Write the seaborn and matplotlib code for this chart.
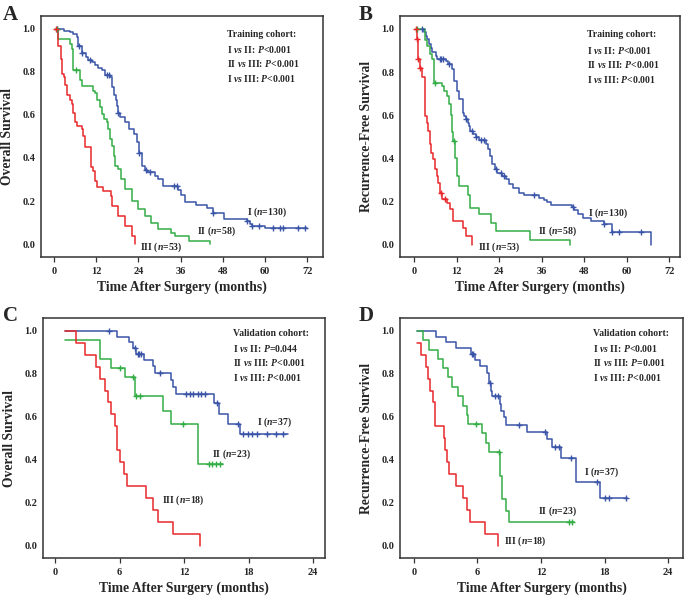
import numpy as np
import pandas as pd
import seaborn as sns
import matplotlib.pyplot as plt

# ---- panel A: training cohort, overall survival ----
a1_t = [0.7, 2.7, 4.5, 5.5, 6.4, 6.9, 7.9, 9.0, 9.6, 10.7, 11.7, 12.6, 13.5, 14.5, 15.9,
        16.4, 17.1, 17.6, 18.0, 18.3, 18.8, 20.2, 21.4, 22.8, 23.5, 24.2, 24.9, 25.9, 26.5,
        28.7, 29.7, 31.1, 35.3, 36.1, 37.3, 40.5, 43.5, 45.3, 48.4, 54.8, 55.7, 56.2, 60.0, 71.9]
a1_s = [1.0, 0.99, 0.985, 0.977, 0.96, 0.92, 0.888, 0.868, 0.853, 0.845, 0.83, 0.817, 0.806, 0.786, 0.775,
        0.729, 0.69, 0.667, 0.643, 0.609, 0.589, 0.566, 0.535, 0.512, 0.473, 0.423, 0.364, 0.346, 0.333,
        0.318, 0.302, 0.27, 0.253, 0.228, 0.197, 0.182, 0.17, 0.147, 0.119, 0.108, 0.096, 0.084, 0.073, 0.073]
a1_c = [0.7, 7.0, 8.0, 10.1, 15.0, 15.6, 18.3, 24.2, 26.1, 27.3, 34.1, 34.9, 45.3, 55.0, 56.3,
        58.4, 62.4, 64.3, 65.2, 69.3, 71.4]

a2_t = [0.7, 1.2, 4.5, 5.0, 5.5, 7.4, 7.9, 11.2, 11.7, 12.3, 13.1, 13.5, 14.3, 15.0, 15.4, 15.9,
        16.4, 17.1, 17.3, 18.3, 19.0, 20.2, 22.1, 24.0, 25.9, 27.5, 29.7, 33.4, 34.4, 38.5, 44.3]
a2_s = [1.0, 0.953, 0.93, 0.907, 0.806, 0.76, 0.736, 0.713, 0.702, 0.667, 0.636, 0.605, 0.581, 0.566, 0.535, 0.488,
        0.457, 0.411, 0.364, 0.349, 0.302, 0.256, 0.20, 0.163, 0.132, 0.10, 0.07, 0.054, 0.038, 0.017, 0.0]
a2_c = [0.7, 6.2]

a3_t = [0.6, 1.2, 1.9, 2.2, 2.8, 3.1, 3.8, 4.5, 5.2, 5.5, 6.0, 6.6, 7.9, 8.3, 8.8, 10.4, 11.2,
        11.7, 12.3, 14.0, 16.1, 16.4, 18.3, 20.2, 22.1, 23.0]
a3_s = [1.0, 0.92, 0.86, 0.79, 0.775, 0.74, 0.69, 0.67, 0.65, 0.61, 0.566, 0.55, 0.535, 0.50, 0.45, 0.357, 0.341,
        0.295, 0.264, 0.248, 0.225, 0.178, 0.132, 0.085, 0.039, 0.0]
a3_c = [0.6]

# ---- panel B: training cohort, recurrence-free survival ----
b1_t = [2.4, 2.8, 3.3, 3.8, 4.2, 4.7, 5.2, 6.1, 6.6, 8.9, 9.5, 10.8, 11.3, 12.2, 12.7, 13.7, 14.1,
        14.6, 15.1, 15.5, 15.8, 16.7, 17.4, 18.3, 20.4, 20.9, 21.4, 22.1, 22.9, 23.5, 24.8, 25.9,
        26.8, 27.8, 29.7, 31.1, 35.3, 36.7, 37.6, 38.6, 44.5, 45.2, 46.2, 47.6, 50.0, 53.5, 55.8, 66.7]
b1_s = [1.0, 0.984, 0.969, 0.953, 0.93, 0.91, 0.891, 0.876, 0.86, 0.853, 0.837, 0.814, 0.76, 0.713, 0.674, 0.612, 0.597,
        0.581, 0.566, 0.55, 0.527, 0.512, 0.50, 0.485, 0.465, 0.442, 0.411, 0.372, 0.349, 0.333, 0.32, 0.302,
        0.279, 0.264, 0.24, 0.228, 0.217, 0.206, 0.195, 0.183, 0.172, 0.16, 0.141, 0.122, 0.107, 0.095, 0.06, 0.0]
b1_c = [2.4, 7.2, 7.6, 8.1, 10.0, 14.6, 16.3, 17.4, 18.8, 19.6, 23.2, 24.5, 25.4, 33.7, 44.7,
        53.7, 55.8, 57.8, 63.9]

b2_t = [0.9, 3.0, 3.6, 4.4, 5.2, 5.6, 8.0, 8.5, 9.3, 10.0, 10.4, 10.8, 11.1, 11.7, 12.0, 12.8,
        15.1, 15.8, 18.4, 21.7, 23.0, 32.8, 43.9]
b2_s = [1.0, 0.95, 0.92, 0.885, 0.86, 0.75, 0.734, 0.711, 0.688, 0.65, 0.60, 0.52, 0.48, 0.40, 0.32, 0.27,
        0.232, 0.17, 0.14, 0.10, 0.062, 0.019, 0.0]
b2_c = [0.9, 5.8, 11.4]

b3_t = [0.5, 0.8, 1.2, 1.6, 2.4, 3.0, 3.6, 4.0, 4.4, 4.9, 5.4, 5.9, 6.4, 6.9, 7.4, 8.0, 9.4,
        10.2, 11.0, 13.8, 14.7, 16.3]
b3_s = [1.0, 0.953, 0.86, 0.817, 0.775, 0.597, 0.566, 0.527, 0.465, 0.426, 0.395, 0.349, 0.318, 0.287, 0.24, 0.209, 0.194,
        0.163, 0.11, 0.075, 0.039, 0.0]
b3_c = [0.5, 0.8, 1.2, 1.6, 7.6, 8.8]

# ---- panel C: validation cohort, overall survival ----
c1_t = [0.9, 5.8, 6.9, 7.2, 7.5, 8.3, 9.1, 9.3, 10.8, 11.0, 11.2, 14.8, 15.2, 16.1, 17.2, 21.7]
c1_s = [1.0, 0.972, 0.946, 0.92, 0.892, 0.865, 0.837, 0.806, 0.772, 0.74, 0.705, 0.666, 0.612, 0.566, 0.52, 0.52]
c1_c = [5.0, 7.4, 7.7, 7.85, 7.95, 9.8, 12.2, 12.5, 12.85, 13.3, 13.6, 13.9, 15.1, 17.0,
        17.5, 17.9, 18.3, 18.8, 19.7, 20.5, 21.2]

c2_t = [0.9, 4.2, 5.2, 6.5, 7.4, 10.0, 10.75, 13.3, 15.6]
c2_s = [0.957, 0.87, 0.826, 0.783, 0.696, 0.626, 0.565, 0.38, 0.38]
c2_c = [6.0, 7.2, 7.5, 7.9, 11.9, 14.3, 14.6, 15.0, 15.3]

c3_t = [0.9, 1.9, 2.8, 3.8, 4.2, 4.6, 4.95, 5.2, 5.6, 5.8, 6.0, 6.4, 6.7, 8.5, 9.1, 9.6, 11.0, 13.45]
c3_s = [1.0, 0.944, 0.889, 0.833, 0.778, 0.722, 0.667, 0.611, 0.556, 0.444, 0.389, 0.333, 0.278, 0.222,
        0.167, 0.111, 0.056, 0.0]
c3_c = []

# ---- panel D: validation cohort, recurrence-free survival ----
d1_t = [0.3, 2.1, 3.0, 4.0, 5.4, 5.8, 6.2, 6.9, 7.1, 7.25, 7.4, 8.1, 8.2, 8.5, 8.7, 10.7, 12.6,
        13.0, 13.9, 15.3, 17.6, 20.1]
d1_s = [1.0, 0.973, 0.946, 0.919, 0.892, 0.865, 0.838, 0.804, 0.758, 0.72, 0.696, 0.66, 0.627, 0.599, 0.562,
        0.531, 0.495, 0.457, 0.41, 0.295, 0.222, 0.222]
d1_c = [5.5, 5.6, 7.15, 7.7, 7.9, 9.9, 12.4, 13.3, 13.7, 14.8, 17.3, 18.0, 18.4, 20.0]

d2_t = [0.3, 0.9, 1.4, 2.3, 2.7, 3.2, 3.6, 4.2, 4.6, 5.0, 5.1, 6.4, 6.85, 7.1, 8.15, 8.3, 8.7, 9.0, 15.1]
d2_s = [1.0, 0.957, 0.913, 0.870, 0.826, 0.783, 0.739, 0.696, 0.652, 0.609, 0.565, 0.522, 0.478, 0.435,
        0.326, 0.217, 0.163, 0.109, 0.109]
d2_c = [5.9, 8.0, 14.6, 14.9]

d3_t = [0.3, 0.7, 1.1, 1.3, 1.5, 1.8, 2.0, 2.8, 2.9, 3.1, 3.3, 4.0, 4.65, 5.0, 5.3, 6.7, 7.9]
d3_s = [0.944, 0.889, 0.833, 0.778, 0.722, 0.667, 0.556, 0.5, 0.444, 0.389, 0.333, 0.278, 0.222, 0.167,
        0.111, 0.056, 0.0]
d3_c = []

group_labels = ["I", "II", "III"]
n_train = [130, 58, 53]
n_valid = [37, 23, 18]
p_train = ["<0.001", "<0.001", "<0.001"]
p_valid_os = ["=0.044", "<0.001", "<0.001"]
p_valid_rfs = ["<0.001", "=0.001", "<0.001"]
colors = ["#3a55a8", "#33ad45", "#e8282b"]

sns.set_theme(style="white")
plt.rcParams['font.family'] = ['Liberation Serif', 'DejaVu Serif']
plt.rcParams['font.weight'] = 'bold'
plt.rcParams['mathtext.fontset'] = 'custom'
plt.rcParams['mathtext.rm'] = 'Liberation Serif:bold'
plt.rcParams['mathtext.it'] = 'Liberation Serif:italic:bold'


def draw_km(ax, t, s, cens, color):
    df = pd.DataFrame({'time': t, 'surv': s})
    sns.lineplot(data=df, x='time', y='surv', ax=ax, color=color, lw=1.1,
                 drawstyle='steps-post', estimator=None, sort=False)
    if len(cens):
        idx = np.searchsorted(t, cens, side='right') - 1
        cdf = pd.DataFrame({'time': cens, 'surv': np.asarray(s)[idx]})
        sns.scatterplot(data=cdf, x='time', y='surv', ax=ax, marker='+', s=24,
                        color=color, linewidth=1.0, zorder=3)


def style_axis(ax, xmax, xstep, xlim, ylabel):
    ax.set_xlim(*xlim)
    ax.set_ylim(-0.058, 1.06)
    ax.set_xticks(np.arange(0, xmax + 1, xstep))
    ax.set_yticks([0, 0.2, 0.4, 0.6, 0.8, 1.0])
    ax.set_yticklabels(["0.0", "0.2", "0.4", "0.6", "0.8", "1.0"])
    ax.tick_params(axis='x', bottom=True, direction='out', length=3.5, width=0.9,
                   pad=4, labelsize=7.5, color='#333333')
    ax.tick_params(axis='y', left=False, length=0, pad=4, labelsize=7.5)
    for sp in ax.spines.values():
        sp.set_color('#333333')
        sp.set_linewidth(1.1)
    ax.set_xlabel('Time After Surgery (months)', fontsize=9.8, fontweight='bold', labelpad=3)
    ax.set_ylabel(ylabel, fontsize=9.8, fontweight='bold', labelpad=6)


def stats_box(ax, x, ys, title, pvals):
    ax.text(x, ys[0], title, transform=ax.transAxes, fontsize=7, va='center')
    pairs = [("I", "II"), ("II", "III"), ("I", "III")]
    for (g1, g2), p, y in zip(pairs, pvals, ys[1:]):
        ax.text(x, y, g1 + r" $\mathit{vs}$ " + g2 + r": $\mathit{P}$" + p,
                transform=ax.transAxes, fontsize=7, va='center')


def curve_labels(ax, ns, pos):
    for g, n, (x, y) in zip(group_labels, ns, pos):
        ax.text(x, y, g + r" ($\mathit{n}$=" + str(n) + ")", fontsize=7, va='center')


fig = plt.figure(figsize=(6.85, 5.98), dpi=100)
axA = fig.add_axes([0.0594, 0.5707, 0.4121, 0.403])
axB = fig.add_axes([0.5839, 0.5702, 0.4088, 0.403])
axC = fig.add_axes([0.0628, 0.0669, 0.4117, 0.4013])
axD = fig.add_axes([0.5839, 0.0669, 0.4131, 0.4013])

for t, s, c, col in zip([a1_t, a2_t, a3_t], [a1_s, a2_s, a3_s], [a1_c, a2_c, a3_c], colors):
    draw_km(axA, t, s, c, col)
for t, s, c, col in zip([b1_t, b2_t, b3_t], [b1_s, b2_s, b3_s], [b1_c, b2_c, b3_c], colors):
    draw_km(axB, t, s, c, col)
for t, s, c, col in zip([c1_t, c2_t, c3_t], [c1_s, c2_s, c3_s], [c1_c, c2_c, c3_c], colors):
    draw_km(axC, t, s, c, col)
for t, s, c, col in zip([d1_t, d2_t, d3_t], [d1_s, d2_s, d3_s], [d1_c, d2_c, d3_c], colors):
    draw_km(axD, t, s, c, col)

style_axis(axA, 72, 12, (-3.8, 76.5), 'Overall Survival')
style_axis(axB, 72, 12, (-3.95, 75.0), 'Recurrence-Free Survival')
style_axis(axC, 24, 6, (-1.12, 25.1), 'Overall Survival')
style_axis(axD, 24, 6, (-1.32, 25.4), 'Recurrence-Free Survival')

top_ys = [0.923, 0.858, 0.800, 0.738]
bot_ys = [0.936, 0.871, 0.814, 0.753]
stats_box(axA, 0.659, top_ys, 'Training cohort:', p_train)
stats_box(axB, 0.667, top_ys, 'Training cohort:', p_train)
stats_box(axC, 0.675, bot_ys, 'Validation cohort:', p_valid_os)
stats_box(axD, 0.683, bot_ys, 'Validation cohort:', p_valid_rfs)

curve_labels(axA, n_train, [(54.8, 0.147), (40.6, 0.059), (24.4, -0.016)])
curve_labels(axB, n_train, [(49.2, 0.144), (35.1, 0.062), (18.1, -0.011)])
curve_labels(axC, n_valid, [(18.8, 0.575), (14.6, 0.426), (9.9, 0.211)])
curve_labels(axD, n_valid, [(16.1, 0.34), (11.7, 0.162), (8.5, 0.019)])

for letter, (x, y) in zip("ABCD", [(0.004, 0.992), (0.524, 0.992), (0.004, 0.488), (0.524, 0.488)]):
    fig.text(x, y, letter, fontsize=15, fontweight='bold', va='top', ha='left')

fig.savefig('out.png', dpi=100)
